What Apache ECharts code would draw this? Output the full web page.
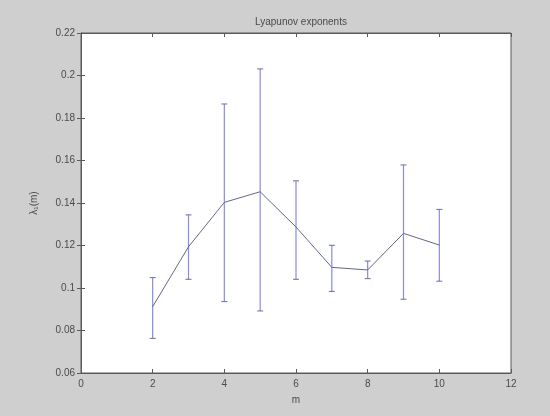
<!DOCTYPE html>
<html>
<head>
<meta charset="utf-8">
<script src="https://cdn.jsdelivr.net/npm/echarts@6/dist/echarts.min.js"></script>
<style>
html,body{margin:0;padding:0;background:#cfcfcf;}
#c{width:550px;height:416px;}
</style>
</head>
<body>
<div id="c"></div>
<script>
const mValues = [2, 3, 4, 5, 6, 7, 8, 9, 10];
const lambdaMean = [0.0912, 0.1194, 0.1403, 0.1453, 0.1287, 0.1097, 0.1085, 0.1257, 0.1202];
const lambdaUpper = [0.1049, 0.1344, 0.1866, 0.2031, 0.1504, 0.1201, 0.1127, 0.1579, 0.1370];
const lambdaLower = [0.0763, 0.1041, 0.0936, 0.0892, 0.1041, 0.0984, 0.1044, 0.0947, 0.1032];
const xTicks = [0, 2, 4, 6, 8, 10, 12];
const yTicks = [0.06, 0.08, 0.1, 0.12, 0.14, 0.16, 0.18, 0.2, 0.22];

const FONT = 'Liberation Sans, Arial, sans-serif';
const TXT = '#4a4a4a';
const AX = '#5a5a5a';

const lineData = mValues.map((m, i) => [m, lambdaMean[i]]);
const errData = mValues.map((m, i) => [m, lambdaLower[i], lambdaUpper[i]]);

const fmtY = v => parseFloat(Number(v).toFixed(2)).toString();

const chart = echarts.init(document.getElementById('c'));
chart.setOption({
  backgroundColor: '#cfcfcf',
  animation: false,
  title: {
    text: 'Lyapunov exponents',
    left: 296, top: 12, textAlign: 'center',
    textStyle: {fontFamily: FONT, fontSize: 10, fontWeight: 'normal', color: TXT}
  },
  grid: {
    left: 81, right: 39, top: 33, bottom: 43,
    show: true, backgroundColor: '#ffffff', borderColor: AX, borderWidth: 1
  },
  xAxis: [{
    type: 'value', min: xTicks[0], max: xTicks[xTicks.length - 1], interval: 2,
    name: 'm', nameLocation: 'middle', nameGap: 22,
    nameTextStyle: {fontFamily: FONT, fontSize: 10, color: TXT},
    axisLine: {show: true, lineStyle: {color: AX}},
    axisTick: {show: true, inside: true, length: 4, lineStyle: {color: AX}},
    axisLabel: {fontFamily: FONT, fontSize: 10, color: TXT, margin: 6},
    splitLine: {show: false}
  }, {
    type: 'value', position: 'top', min: xTicks[0], max: xTicks[xTicks.length - 1], interval: 2,
    axisLine: {show: true, lineStyle: {color: AX}},
    axisTick: {show: true, inside: true, length: 4, lineStyle: {color: AX}},
    axisLabel: {show: false}, splitLine: {show: false}
  }],
  yAxis: [{
    type: 'value', min: yTicks[0], max: yTicks[yTicks.length - 1], interval: 0.02,
    name: 'λ\u2081(m)', nameLocation: 'middle', nameGap: 42, nameRotate: 90,
    nameTextStyle: {fontFamily: FONT, fontSize: 10, color: TXT},
    axisLine: {show: true, lineStyle: {color: AX}},
    axisTick: {show: true, inside: true, length: 4, lineStyle: {color: AX}},
    axisLabel: {fontFamily: FONT, fontSize: 10, color: TXT, margin: 6, formatter: fmtY},
    splitLine: {show: false}
  }, {
    type: 'value', position: 'right', min: yTicks[0], max: yTicks[yTicks.length - 1], interval: 0.02,
    axisLine: {show: true, lineStyle: {color: AX}},
    axisTick: {show: true, inside: true, length: 4, lineStyle: {color: AX}},
    axisLabel: {show: false}, splitLine: {show: false}
  }],
  series: [{
    type: 'custom',
    data: errData,
    encode: {x: 0, y: [1, 2]},
    z: 2,
    renderItem: function (params, api) {
      const x = api.value(0);
      const lo = api.coord([x, api.value(1)]);
      const hi = api.coord([x, api.value(2)]);
      const w = 3;
      const style = {stroke: '#8a8ae0', lineWidth: 1.2};
      const capStyle = {stroke: '#6c6c9c', lineWidth: 1};
      return {
        type: 'group',
        children: [
          {type: 'line', shape: {x1: lo[0], y1: lo[1], x2: hi[0], y2: hi[1]}, style: style},
          {type: 'line', shape: {x1: hi[0] - w, y1: hi[1], x2: hi[0] + w, y2: hi[1]}, style: capStyle},
          {type: 'line', shape: {x1: lo[0] - w, y1: lo[1], x2: lo[0] + w, y2: lo[1]}, style: capStyle}
        ]
      };
    }
  }, {
    type: 'line',
    data: lineData,
    symbol: 'none',
    z: 3,
    lineStyle: {color: '#66668a', width: 1}
  }]
});
</script>
</body>
</html>
